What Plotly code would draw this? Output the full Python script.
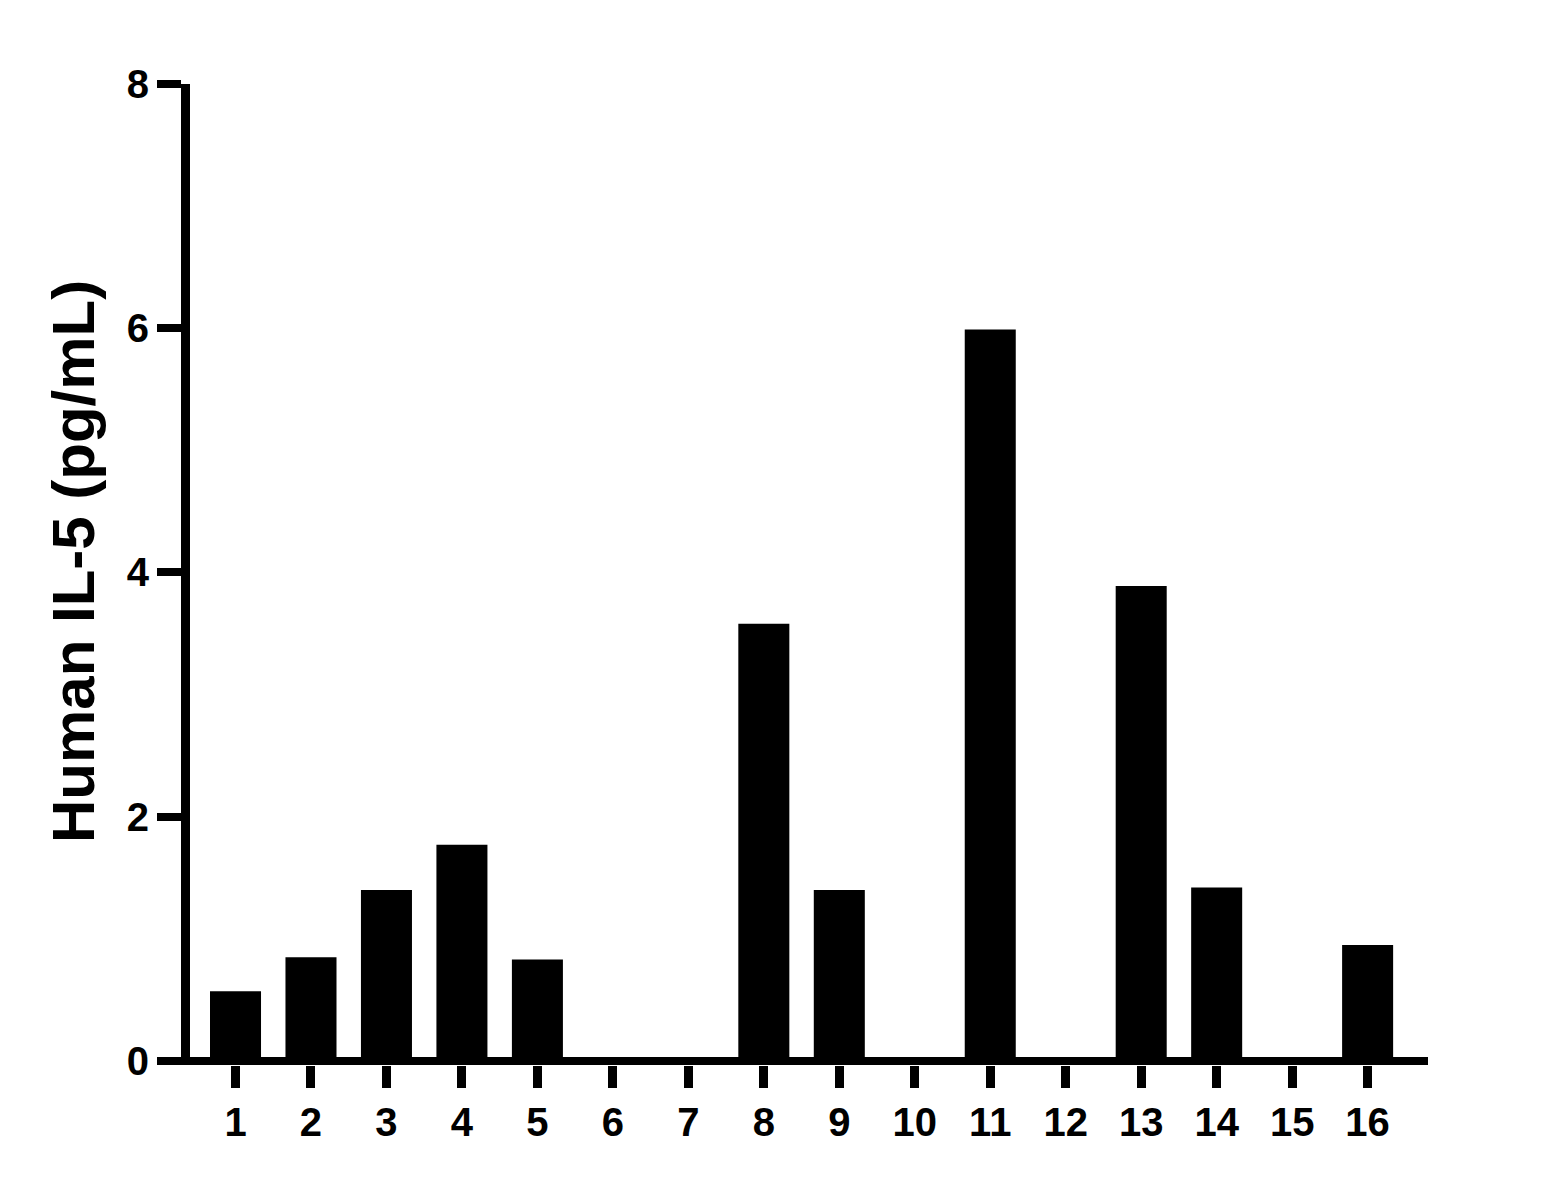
import plotly.graph_objects as go

# Sample number on the x axis and the measured IL-5 value for each sample
samples = list(range(1, 17))
sample_labels = [str(s) for s in samples]
il5_values = [0.57, 0.85, 1.40, 1.77, 0.83, 0.0, 0.0, 3.58,
              1.40, 0.0, 5.99, 0.0, 3.89, 1.42, 0.0, 0.95]
y_ticks = [0, 2, 4, 6, 8]
y_title = "Human IL-5 (pg/mL)"

FONT = "Liberation Sans, Arial, sans-serif"


def build_figure():
    fig = go.Figure()

    fig.add_trace(
        go.Bar(
            x=samples,
            y=il5_values,
            width=0.676,
            marker_color="black",
            marker_line_width=0,
        )
    )

    # page body has an 8px margin, so the plot box is nudged up/left by that
    fig.update_layout(
        width=1559,
        height=1183,
        margin={"l": 182, "r": 139, "t": 76, "b": 126},
        plot_bgcolor="white",
        paper_bgcolor="white",
        showlegend=False,
        font={"family": FONT, "color": "black"},
    )

    fig.update_xaxes(
        range=[0.397, 16.80],
        tickvals=samples,
        ticktext=sample_labels,
        ticks="outside",
        ticklen=22,
        tickwidth=9,
        tickcolor="black",
        tickfont={"family": FONT, "size": 40, "weight": "bold"},
        showline=False,
        showgrid=False,
        zeroline=False,
    )

    # y axis line on the left, zero line acts as the x axis baseline
    fig.update_yaxes(
        range=[-0.033, 8],
        tickvals=y_ticks,
        ticks="outside",
        ticklen=24,
        tickwidth=8,
        tickcolor="black",
        tickfont={"family": FONT, "size": 40, "weight": "bold"},
        showline=True,
        linewidth=9,
        linecolor="black",
        showgrid=False,
        zeroline=True,
        zerolinewidth=8,
        zerolinecolor="black",
    )

    fig.add_annotation(
        text=y_title,
        textangle=-90,
        xref="paper",
        yref="paper",
        x=-0.0945,
        y=0.5127,
        xanchor="center",
        yanchor="middle",
        showarrow=False,
        font={"family": FONT, "size": 60, "weight": "bold", "color": "black"},
    )

    return fig


if __name__ == "__main__":
    fig = build_figure()
    fig.write_html("out.html")
